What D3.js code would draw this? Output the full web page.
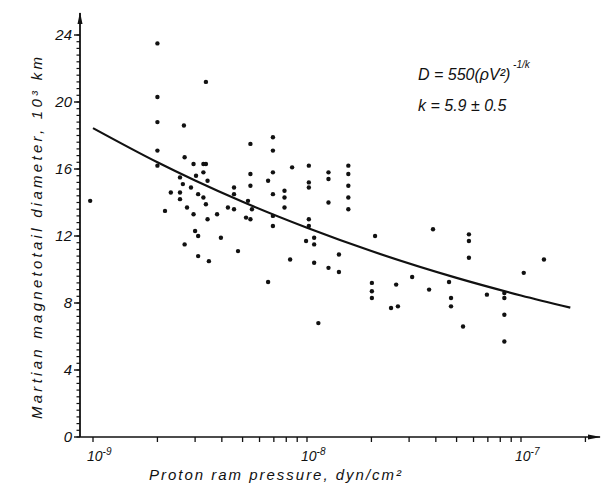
<!DOCTYPE html>
<html><head><meta charset="utf-8">
<script src="https://cdn.jsdelivr.net/npm/d3@7"></script>
<style>
html,body{margin:0;padding:0;background:#fff;}
text{font-family:"Liberation Sans",Arial,sans-serif;font-style:italic;fill:#111;}
</style></head><body>
<svg id="chart" width="616" height="488"></svg>
<script>
// Scatter data: proton ram pressure (dyn/cm^2) and tail diameter (10^3 km)
const pressure = [0.97e-9,2.0e-9,2.0e-9,2.0e-9,2.0e-9,2.0e-9,3.37e-9,2.66e-9,2.68e-9,2.95e-9,
  3.28e-9,3.37e-9,3.03e-9,3.28e-9,3.43e-9,5.44e-9,5.44e-9,5.44e-9,5.30e-9,2.55e-9,
  2.63e-9,2.87e-9,2.31e-9,2.55e-9,2.55e-9,3.10e-9,3.28e-9,3.37e-9,4.56e-9,4.56e-9,
  2.17e-9,2.75e-9,2.95e-9,3.43e-9,3.80e-9,4.27e-9,4.56e-9,5.19e-9,5.44e-9,5.53e-9,
  3.0e-9,3.10e-9,3.96e-9,2.68e-9,3.10e-9,3.48e-9,4.76e-9,6.93e-9,6.93e-9,6.93e-9,
  6.58e-9,6.93e-9,7.85e-9,7.85e-9,7.85e-9,8.52e-9,1.02e-8,1.02e-8,1.02e-8,1.02e-8,
  1.02e-8,6.93e-9,6.93e-9,1.26e-8,1.26e-8,1.26e-8,1.56e-8,1.56e-8,1.56e-8,1.56e-8,
  1.56e-8,1.08e-8,9.9e-9,1.08e-8,1.41e-8,8.34e-9,1.08e-8,1.26e-8,1.41e-8,2.08e-8,
  3.10e-8,6.58e-9,1.13e-8,2.01e-8,2.01e-8,2.01e-8,2.61e-8,2.47e-8,2.66e-8,3.88e-8,
  5.71e-8,5.71e-8,5.71e-8,1.28e-7,1.03e-7,3.72e-8,4.61e-8,4.71e-8,4.71e-8,5.36e-8,
  6.93e-8,8.36e-8,8.36e-8,8.36e-8,8.36e-8];
const diameter = [14.1,23.5,20.3,18.8,17.1,16.2,21.2,18.6,16.7,16.3,
  16.3,16.3,15.6,15.8,15.3,17.5,15.7,15.0,14.1,15.5,
  15.1,14.9,14.6,14.6,14.2,14.5,14.3,13.9,14.9,14.5,
  13.5,13.7,13.3,13.0,13.3,13.7,13.6,13.1,13.0,13.6,
  12.3,12.0,11.9,11.5,10.8,10.5,11.1,17.9,17.1,15.8,
  15.3,14.5,14.7,14.3,13.7,16.1,16.2,15.2,14.9,13.0,
  12.6,13.2,12.6,15.8,15.4,14.0,16.2,15.7,15.0,14.3,
  13.6,11.9,11.7,11.5,10.9,10.6,10.4,10.1,9.85,12.0,
  9.55,9.25,6.8,9.2,8.7,8.3,9.1,7.7,7.8,12.4,
  12.1,11.7,10.7,10.6,9.8,8.8,9.25,8.3,7.8,6.6,
  8.5,8.3,7.3,5.7,8.6];
// Fit curve D = 550 (rho V^2)^(-1/k)
const fitPressure = [1e-9,2e-9,3e-9,5e-9,1e-8,2e-8,5e-8,1e-7,1.7e-7];
const fitDiameter = [18.44,16.40,15.31,14.04,12.49,11.10,9.50,8.45,7.72];
const yTicks = [0,4,8,12,16,20,24];
const xTickExps = [-9,-8,-7];

const svg = d3.select("#chart");
const x = d3.scaleLog().domain([1e-9,1e-7]).range([93,521]);
const y = d3.scaleLinear().domain([0,24]).range([437,35]);
const ax0 = 80, ay0 = 437;

// y axis line + arrow
svg.append("line").attr("x1",ax0).attr("x2",ax0).attr("y1",ay0).attr("y2",13)
  .attr("stroke","#111").attr("stroke-width",1.8);
svg.append("path").attr("d",`M${ax0-2.5},24 L${ax0},12 L${ax0+2.5},24 Z`).attr("fill","#111");
// x axis line + arrow
svg.append("line").attr("x1",ax0).attr("x2",600).attr("y1",ay0).attr("y2",ay0)
  .attr("stroke","#111").attr("stroke-width",1.6);
svg.append("path").attr("d",`M588,${ay0-2.5} L601,${ay0} L588,${ay0+2.5} Z`).attr("fill","#111");

// y minor + major ticks
const yMinor = d3.range(0,24.01,0.4);
svg.append("g").selectAll("line").data(yMinor).join("line")
  .attr("x1",ax0-3.5).attr("x2",ax0).attr("y1",d=>y(d)).attr("y2",d=>y(d))
  .attr("stroke","#111").attr("stroke-width",1.2);
svg.append("g").selectAll("line").data(yTicks).join("line")
  .attr("x1",ax0-6).attr("x2",ax0).attr("y1",d=>y(d)).attr("y2",d=>y(d))
  .attr("stroke","#111").attr("stroke-width",1.4);
svg.append("g").selectAll("text").data(yTicks).join("text")
  .attr("x",72).attr("y",d=>y(d)+5).attr("text-anchor","end")
  .attr("font-size",15).text(d=>d);

// x ticks
const xMinor = [];
for (const e of [-9,-8]) for (let m=1;m<=9;m++) xMinor.push(m*Math.pow(10,e));
xMinor.push(1e-7,2e-7);
svg.append("g").selectAll("line").data(xMinor).join("line")
  .attr("x1",d=>x(d)).attr("x2",d=>x(d)).attr("y1",ay0).attr("y2",ay0+5)
  .attr("stroke","#111").attr("stroke-width",1.3);
const xl = svg.append("g").selectAll("text").data(xTickExps).join("text")
  .attr("x",d=>x(Math.pow(10,d))-6).attr("y",461).attr("font-size",14);
xl.append("tspan").text("10");
xl.append("tspan").attr("dy",-6).attr("font-size",10).text(d=>d);

// fit curve
const line = d3.line().x(d=>x(d[0])).y(d=>y(d[1])).curve(d3.curveMonotoneX);
svg.append("path").datum(fitPressure.map((p,i)=>[p,fitDiameter[i]]))
  .attr("d",line).attr("fill","none").attr("stroke","#111").attr("stroke-width",2.2);

// points
svg.append("g").selectAll("circle").data(pressure.map((p,i)=>[p,diameter[i]])).join("circle")
  .attr("cx",d=>x(d[0])).attr("cy",d=>y(d[1])).attr("r",2.2).attr("fill","#111");

// axis titles
svg.append("text").attr("transform","translate(42,238) rotate(-90)")
  .attr("text-anchor","middle").attr("font-size",15)
  .attr("textLength",362).attr("lengthAdjust","spacing")
  .text("Martian  magnetotail  diameter,  10³ km");
svg.append("text").attr("x",149).attr("y",480).attr("font-size",15)
  .attr("textLength",252).attr("lengthAdjust","spacing")
  .text("Proton  ram  pressure,  dyn/cm²");

// formula
const f = svg.append("text").attr("x",418).attr("y",80).attr("font-size",16);
f.append("tspan").text("D = 550(ρV²)");
f.append("tspan").attr("dy",-12).attr("font-size",10).text(" -1/k");
svg.append("text").attr("x",418).attr("y",111).attr("font-size",16).text("k = 5.9 ± 0.5");
</script></body></html>
